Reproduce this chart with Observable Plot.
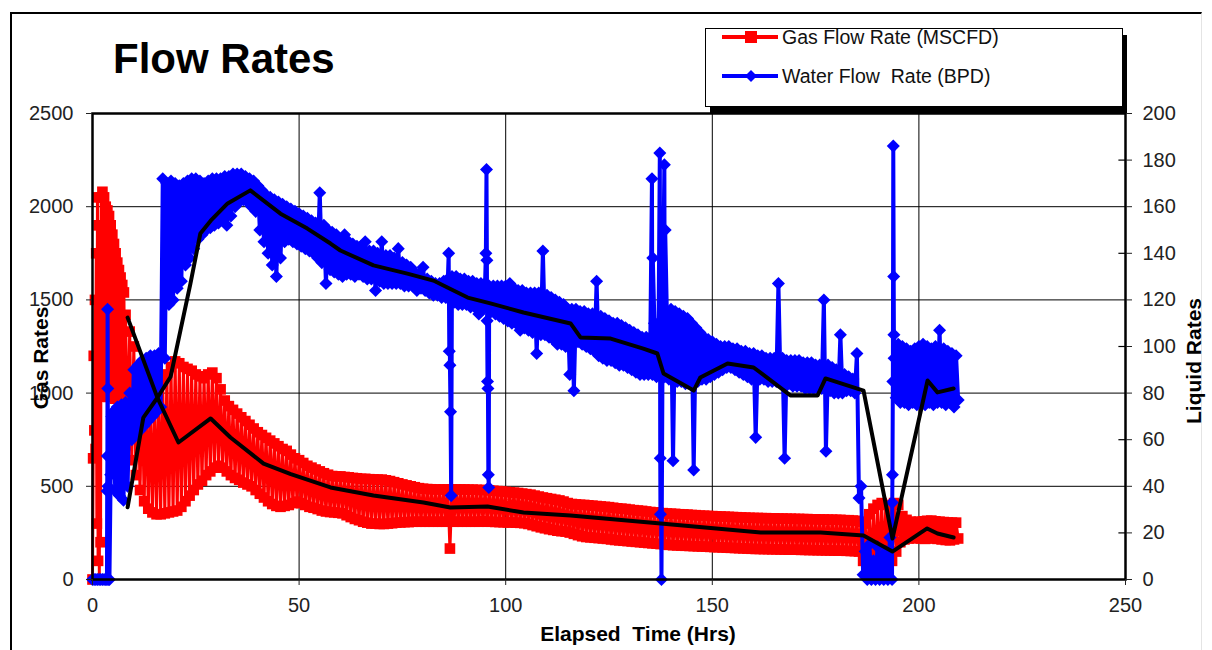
<!DOCTYPE html>
<html>
<head>
<meta charset="utf-8">
<script src="https://cdn.jsdelivr.net/npm/d3@7"></script>
<script src="https://cdn.jsdelivr.net/npm/@observablehq/plot@0.6"></script>
<style>
  body { margin: 0; background: #fff; font-family: "Liberation Sans", Arial, sans-serif; }
  #wrap { position: relative; width: 1212px; height: 650px; overflow: hidden; background: #fff; }
  #border { position: absolute; left: 10px; top: 12px; width: 1192px; height: 660px;
            border-left: 2px solid #000; border-top: 2px solid #000; border-right: 1px solid #e4e4e4; box-sizing: border-box; }
  #chart { position: absolute; left: 0; top: 0; }
  #overlay { position: absolute; left: 0; top: 0; }
</style>
</head>
<body>
<div id="wrap">
  <div id="border"></div>
  <div id="chart"></div>
  <svg id="overlay" width="1212" height="650" xmlns="http://www.w3.org/2000/svg" font-family="Liberation Sans, Arial, sans-serif">
    <text x="113" y="73" font-size="42" font-weight="bold" fill="#000">Flow Rates</text>
    <rect x="710" y="35" width="417" height="78" fill="#000"/>
    <rect x="705.5" y="28.5" width="417" height="78" fill="#fff" stroke="#000" stroke-width="1"/>
    <line x1="722" y1="37" x2="778" y2="37" stroke="#ff0000" stroke-width="4"/>
    <rect x="745" y="31" width="12" height="12" fill="#ff0000"/>
    <text x="782" y="44" font-size="19.5" fill="#111">Gas Flow Rate (MSCFD)</text>
    <line x1="722" y1="76" x2="778" y2="76" stroke="#0000ff" stroke-width="4"/>
    <path d="M751,70 L757,76 L751,82 L745,76 Z" fill="#0000ff"/>
    <text x="782" y="83" font-size="19.5" fill="#111" xml:space="preserve">Water Flow  Rate (BPD)</text>
    <text transform="translate(40,358) rotate(-90)" dy="0.36em" text-anchor="middle" font-size="21" font-weight="bold" fill="#000">Gas Rates</text>
    <text transform="translate(1193,361) rotate(-90)" dy="0.36em" text-anchor="middle" font-size="21" font-weight="bold" fill="#000">Liquid Rates</text>
    <text x="638" y="641" text-anchor="middle" font-size="21" font-weight="bold" fill="#000" xml:space="preserve">Elapsed  Time (Hrs)</text>
  </svg>
</div>
<script>
// ---------- data ----------
// Gas flow rate (MSCFD): dense samples over the first 8 hours
const gasEarlyTime = [0, 0.15, 0.3, 0.45, 0.6, 0.75, 0.9, 1.05, 1.2, 1.35, 1.5, 1.65, 1.8, 1.95, 2.1, 2.25, 2.4, 2.6, 2.8, 3.0,
  3.2, 3.4, 3.6, 3.8, 4.0, 4.2, 4.4, 4.6, 4.8, 5.0, 5.2, 5.4, 5.6, 5.8, 6.0, 6.2, 6.4, 6.6, 6.8, 7.0, 7.2, 7.4, 7.6, 7.8];
const gasEarlyRate = [0, 650, 1200, 800, 1500, 700, 1750, 300, 2050, 100, 1900, 0, 1400, 200, 2050, 1100, 2080, 1000, 2050, 980,
  2000, 1000, 1980, 980, 1950, 990, 1900, 980, 1850, 990, 1800, 970, 1750, 990, 1700, 980, 1660, 990, 1620, 980, 1580, 1000, 1540, 1000];
// Gas: samples on the hour (upper side of the noisy band), hours 8..209
const gasStart = 8;
const gasOnHour = [
  1420, 1330, 1250, 1120, 1050, 980, 930, 950, 1000, 1050, 1100, 1140,
  1170, 1160, 1140, 1130, 1120, 1100, 1090, 1080, 1100, 1110,
  1080, 1020, 960, 930, 910, 890, 870, 850, 830, 810,
  790, 775, 760, 745, 730, 715, 700, 690, 670, 650,
  640, 625, 610, 600, 590, 580, 570, 562, 555, 553,
  553, 550, 548, 545, 543, 540, 540, 538, 537, 536,
  536, 532, 528, 522, 516, 510, 505, 500, 495, 490,
  487, 485, 484, 483, 483, 483, 483, 483, 483, 483,
  483, 482, 482, 481, 480, 480, 478, 476, 474, 472,
  470, 468, 466, 464, 461, 458, 455, 450, 445, 440,
  436, 432, 428, 424, 418, 410, 405, 403, 401, 400,
  398, 396, 394, 392, 390, 388, 385, 382, 380, 378,
  375, 372, 370, 368, 365, 362, 360, 358, 356, 354,
  353, 352, 350, 349, 348, 346, 345, 343, 342, 341,
  340, 339, 338, 337, 336, 335, 334, 333, 332, 331,
  330, 330, 329, 329, 328, 328, 327, 327, 326, 326,
  325, 325, 324, 324, 323, 323, 322, 322, 321, 321,
  320, 320, 318, 318, 316, 315, 310, 300, 350, 380,
  400, 410, 400, 380, 410, 400, 340, 320, 310, 308,
  310, 312, 315, 316, 312, 310, 308, 306, 305, 305];
// Gas: samples on the half hour (lower side of the band), hours 8.5..209.5
const gasOnHalfHour = [
  720, 640, 560, 480, 420, 380, 360, 350, 350, 355, 360, 365,
  370, 390, 420, 450, 480, 510, 530, 560, 580, 600,
  610, 600, 580, 560, 545, 535, 520, 510, 500, 480,
  460, 440, 420, 405, 395, 390, 395, 400, 410, 418,
  410, 400, 390, 385, 378, 370, 365, 362, 360, 358,
  355, 345, 335, 325, 318, 310, 305, 300, 300, 298,
  298, 300, 302, 305, 306, 308, 308, 310, 310, 310,
  310, 310, 310, 310, 310, 310, 166, 310, 310, 310,
  310, 310, 310, 310, 312, 310, 310, 309, 308, 307,
  306, 306, 305, 304, 302, 298, 292, 286, 280, 275,
  270, 266, 262, 259, 257, 252, 245, 238, 232, 228,
  226, 224, 222, 220, 218, 215, 212, 210, 208, 206,
  204, 202, 200, 198, 196, 194, 192, 190, 188, 186,
  184, 183, 182, 181, 180, 179, 178, 177, 176, 175,
  174, 173, 172, 171, 170, 169, 168, 167, 166, 165,
  164, 164, 163, 163, 162, 162, 161, 161, 160, 160,
  160, 159, 159, 158, 158, 157, 157, 156, 156, 155,
  155, 155, 154, 153, 152, 150, 100, 60, 30, 20,
  40, 60, 80, 100, 150, 200, 215, 220, 222, 222,
  220, 218, 220, 222, 218, 215, 212, 210, 215, 220];

// Water flow rate (BPD): dense samples over the first 5 hours
const waterEarlyTime = [0, 0.4, 0.8, 1.2, 1.6, 2.0, 2.4, 2.8, 3.2, 3.5, 3.55, 3.6, 3.65, 3.7, 3.75, 3.8, 4.1, 4.4, 4.7];
const waterEarlyRate = [0, 0, 0, 0, 0, 0, 0, 0, 0, 0, 38, 53, 116, 82, 40, 0, 0, 45, 70];
// Water: samples on the hour (upper side of the band), hours 5..209
const waterStart = 5;
const waterOnHour = [
  72, 74, 75, 76, 80,
  90, 92, 94, 95, 96, 96, 97, 172,
  170, 171, 170, 169, 170, 171, 172, 172, 171, 170, 171, 172,
  172, 172, 173, 173, 174, 174, 174, 173, 172, 171,
  169, 167, 165, 164, 163, 162, 161, 160, 159, 158,
  157, 156, 155, 154, 153, 166, 152, 150, 149, 148,
  146, 148, 145, 144, 143, 143, 145, 141, 141, 140,
  145, 139, 139, 138, 142, 136, 135, 134, 132, 131,
  134, 129, 128, 127, 127, 128, 129, 130, 130, 129,
  129, 128, 128, 127, 127, 127, 126, 126, 126, 126,
  126, 127, 125, 124, 124, 123, 123, 123, 123, 141,
  122, 121, 120, 119, 118, 116, 116, 116, 115, 115,
  114, 114, 128, 113, 112, 111, 110, 110, 109, 108,
  107, 106, 105, 104, 104, 104, 110, 110, 112, 115,
  116, 115, 114, 113, 112, 110, 108, 106, 104, 103,
  102, 101, 100, 100, 100, 99, 99, 98, 98, 97,
  97, 96, 96, 95, 95, 95, 127, 95, 94, 94,
  94, 94, 93, 93, 93, 92, 92, 120, 92, 91,
  90, 105, 88, 87, 86, 97, 40, 12, 15, 8,
  14, 10, 12, 18, 95, 101, 100, 99, 98, 99,
  100, 101, 100, 99, 100, 107, 99, 98, 97, 96];
// Water: samples on the half hour (lower side of the band), hours 5.5..209.5
const waterOnHalfHour = [
  38, 36, 34, 40, 60,
  62, 64, 66, 68, 70, 72, 74, 95,
  118, 120, 125, 128, 135, 138, 142, 146, 148, 150, 151, 152,
  153, 155, 152, 156, 160, 162, 163, 162, 160, 158,
  150, 145, 140, 135, 130, 138, 145, 146, 145, 144,
  143, 142, 141, 140, 138, 136, 127, 133, 132, 131,
  130, 131, 131, 130, 131, 130, 129, 129, 124, 128,
  127, 127, 127, 127, 127, 126, 126, 126, 124, 125,
  124, 123, 122, 122, 121, 121, 120, 119, 118, 118,
  118, 117, 117, 114, 116, 111, 115, 114, 113, 112,
  111, 110, 110, 107, 108, 107, 106, 97, 105, 105,
  104, 103, 101, 101, 100, 88, 81, 102, 101, 100,
  99, 98, 96, 95, 94, 94, 93, 92, 92, 91,
  90, 89, 88, 88, 88, 88, 87, 87, 87, 86,
  51, 85, 85, 84, 85, 47, 85, 86, 86, 87,
  88, 89, 90, 91, 91, 90, 89, 88, 87, 86,
  61, 86, 86, 85, 85, 85, 85, 52, 84, 83,
  83, 83, 82, 82, 82, 82, 82, 55, 81, 80,
  80, 80, 81, 81, 80, 35, 2, 0, 0, 0,
  0, 0, 0, 0, 78, 76, 76, 75, 76, 75,
  76, 75, 76, 75, 76, 76, 75, 76, 74, 77];
// Water spikes (extra samples read along the tall vertical excursions)
const waterSpikeTime = [86.2, 86.35, 86.5, 86.65, 86.8, 95.2, 95.35, 95.45, 95.6, 95.7, 95.8, 95.9,
  135.4, 135.6, 137.3, 137.4, 137.45, 137.7, 138.4, 138.6, 193.55, 193.6, 193.7, 193.8, 193.9, 193.95];
const waterSpikeRate = [140, 98, 92, 72, 36, 140, 176, 137, 85, 82, 45, 39.5,
  172, 138, 183, 52, 28, 0, 178, 150, 33, 45, 85, 186, 130, 105];

// Trend lines (black)
const gasTrendTime = [8.5, 15.7, 20.8, 28.6, 33.4, 41.4, 48, 57.6, 68, 80.1, 86.6, 95.6, 104.3, 115.7, 137.5, 161.7, 176.2, 186.6, 193.6, 202, 204.5, 208.4];
const gasTrendRate = [1405, 976, 735, 864, 762, 622, 565, 494, 451, 413, 386, 392, 359, 343, 300, 252, 252, 236, 150, 274, 247, 225];
const waterTrendTime = [8.5, 12.3, 15.7, 18.9, 21.3, 23.7, 26.1, 28.6, 32.7, 38.2, 45.5, 52, 57.6, 60, 68, 76.2, 82.5, 85.9, 90.8, 96.3, 104.3, 115.7,
  118.1, 125.4, 133.3, 136.7, 138.2, 145.5, 147.1, 153.7, 160, 168.9, 175.5, 177.4, 186.6, 193.6, 202.1, 204.5, 208.4];
const waterTrendRate = [31, 69.5, 78, 87, 107, 127, 148.5, 154, 161.4, 167, 157, 150.6, 144.2, 141.2, 134.8, 131.3, 128.3, 125.3, 121, 118.5, 114.6, 109.9,
  103.9, 103.4, 99.1, 97, 88.4, 81.1, 86.7, 92.7, 91, 79, 79, 86.3, 81.1, 17.6, 85.4, 80.3, 82];

// Axis ticks
const xTicks = [0, 50, 100, 150, 200, 250];
const gasTicks = [0, 500, 1000, 1500, 2000, 2500];
const liquidTicks = [0, 20, 40, 60, 80, 100, 120, 140, 160, 180, 200];
const liquidMinor = [20, 60, 100, 140, 180];

// ---------- build tables ----------
const byTime = (a, b) => a.t - b.t;
const gas = gasEarlyTime.map((t, i) => ({t, v: gasEarlyRate[i]}))
  .concat(gasOnHour.map((v, i) => ({t: gasStart + i, v})))
  .concat(gasOnHalfHour.map((v, i) => ({t: gasStart + i + 0.5, v})))
  .sort(byTime);
const water = waterEarlyTime.map((t, i) => ({t, v: waterEarlyRate[i]}))
  .concat(waterOnHour.map((v, i) => ({t: waterStart + i, v})))
  .concat(waterOnHalfHour.map((v, i) => ({t: waterStart + i + 0.5, v})))
  .concat(waterSpikeTime.map((t, i) => ({t, v: waterSpikeRate[i]})))
  .sort(byTime);
const gasTrend = gasTrendTime.map((t, i) => ({t, v: gasTrendRate[i]}));
const waterTrend = waterTrendTime.map((t, i) => ({t, v: waterTrendRate[i]}));

const k = 2500 / 200; // secondary (liquid) axis ratio
const wy = d => d.v * k;

const diamond = {
  draw(ctx, size) {
    const s = Math.sqrt(size / 2);
    ctx.moveTo(0, -s); ctx.lineTo(s, 0); ctx.lineTo(0, s); ctx.lineTo(-s, 0); ctx.closePath();
  }
};

const chart = Plot.plot({
  width: 1212,
  height: 650,
  marginLeft: 92,
  marginRight: 87,
  marginTop: 113,
  marginBottom: 71,
  x: {domain: [0, 250]},
  y: {domain: [0, 2500]},
  style: {fontFamily: "Liberation Sans, Arial, sans-serif", fontSize: "20px", color: "#222", background: "transparent", overflow: "visible"},
  marks: [
    Plot.ruleX([50, 100, 150, 200], {stroke: "#000", strokeWidth: 1}),
    Plot.ruleY([500, 1000, 1500, 2000], {stroke: "#000", strokeWidth: 1}),
    Plot.ruleY(liquidMinor, {y: d => d * k, x1: 248.4, x2: 250, stroke: "#000", strokeWidth: 1.2}),
    Plot.line(gas, {x: "t", y: "v", stroke: "#ff0000", strokeWidth: 3}),
    Plot.dot(gas, {x: "t", y: "v", symbol: "square", r: 6, fill: "#ff0000"}),
    Plot.line(water, {x: "t", y: wy, stroke: "#0000ff", strokeWidth: 4}),
    Plot.dot(water, {x: "t", y: wy, symbol: diamond, r: 5.2, fill: "#0000ff"}),
    Plot.line(gasTrend, {x: "t", y: "v", stroke: "#000", strokeWidth: 4}),
    Plot.line(waterTrend, {x: "t", y: wy, stroke: "#000", strokeWidth: 4}),
    Plot.frame({stroke: "#000", strokeWidth: 2.5}),
    Plot.axisX(xTicks, {anchor: "bottom", tickSize: 6, tickPadding: 12, fontSize: 20, label: null, tickFormat: d => String(d)}),
    Plot.axisY(gasTicks, {anchor: "left", tickSize: 6, tickPadding: 13, fontSize: 20, label: null, tickFormat: d => String(d)}),
    Plot.axisY(liquidTicks.map(d => d * k), {anchor: "right", tickSize: 6, tickPadding: 11, fontSize: 20, label: null, tickFormat: d => String(Math.round(d / k))})
  ]
});
document.getElementById("chart").appendChild(chart);
</script>
</body>
</html>
